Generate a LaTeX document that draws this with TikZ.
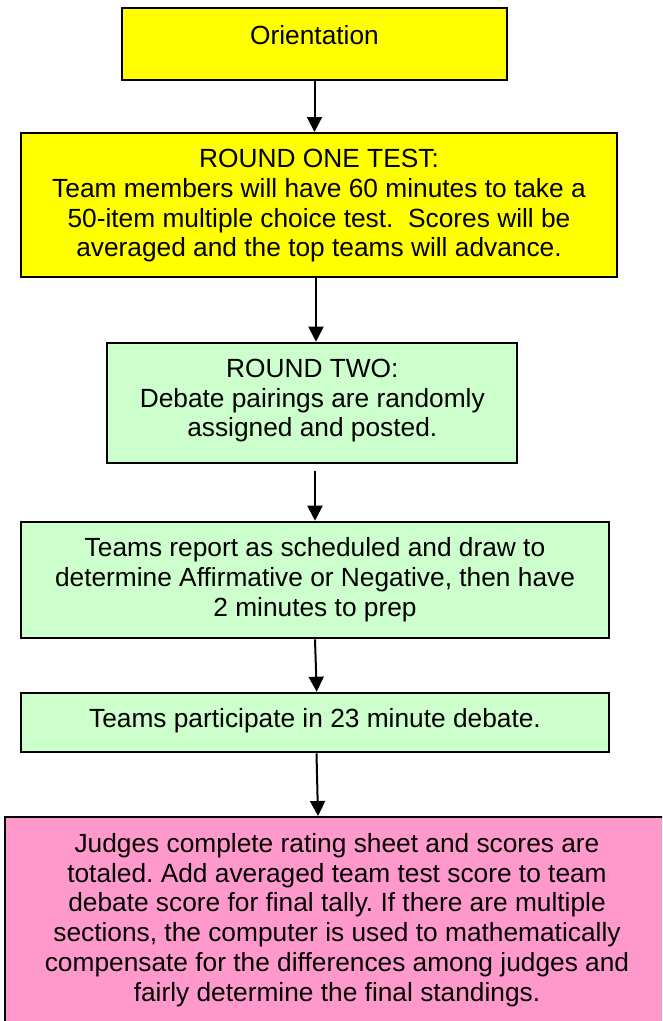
\documentclass[tikz,border=0pt]{standalone}
\usepackage{fontspec}
\setmainfont{Liberation Sans}
\usetikzlibrary{arrows.meta}
\frenchspacing
\definecolor{boxyellow}{HTML}{FFFF00}
\definecolor{boxgreen}{HTML}{CCFFCC}
\definecolor{boxpink}{HTML}{FF99CC}
\tikzset{
  stepbox/.style={draw=black, line width=2pt, rectangle, inner sep=0pt},
  steptext/.style={inner sep=0pt, anchor=north, align=center, font=\fontsize{26.3}{29.8}\selectfont},
  flow/.style={line width=2pt, -{Triangle[length=15pt,width=15pt]}}
}
\begin{document}
\begin{tikzpicture}[x=1pt,y=-1pt]
\useasboundingbox (0,0) rectangle (662,1021);
\clip (0,0) rectangle (662,1021);
% boxes
\node[stepbox, fill=boxyellow, minimum width=385pt, minimum height=72pt] (b1) at (314.5,44) {};
\node[stepbox, fill=boxyellow, minimum width=596pt, minimum height=144pt] (b2) at (319,205) {};
\node[stepbox, fill=boxgreen, minimum width=410pt, minimum height=120pt] (b3) at (312.3,402.7) {};
\node[stepbox, fill=boxgreen, minimum width=588pt, minimum height=116.6pt] (b4) at (315,580) {};
\node[stepbox, fill=boxgreen, minimum width=588pt, minimum height=59.6pt] (b5) at (315,722.5) {};
\node[stepbox, fill=boxpink, minimum width=664pt, minimum height=205pt] (b6) at (337,919.5) {};
% texts
\node[steptext] (t1) at ([yshift=-18pt]b1.north) {Orientation};
\node[steptext] (t2) at ([yshift=-17pt]b2.north) {ROUND ONE TEST:\\Team members will have 60 minutes to take a\\50-item multiple choice test.\ \ Scores will be\\averaged and the top teams will advance.};
\node[steptext] (t3) at ([yshift=-17pt]b3.north) {ROUND TWO:\\Debate pairings are randomly\\assigned and posted.};
\node[steptext] (t4) at ([yshift=-17pt]b4.north) {Teams report as scheduled and draw to\\determine Affirmative or Negative, then have\\2 minutes to prep};
\node[steptext] (t5) at ([yshift=-17pt]b5.north) {Teams participate in 23 minute debate.};
\node[steptext] (t6) at ([yshift=-17pt]b6.north) {Judges complete rating sheet and scores are\\totaled. Add averaged team test score to team\\debate score for final tally. If there are multiple\\sections, the computer is used to mathematically\\compensate for the differences among judges and\\fairly determine the final standings.};
% arrows
\draw[flow] (b1.south) -- (b2.north -| b1.south);
\draw[flow] ([xshift=-3pt]b2.south) -- ([xshift=3.7pt]b3.north);
\draw[flow, shorten <=7pt] ([xshift=2.7pt]b3.south) -- (b4.north);
\draw[flow] (b4.south) -- ([xshift=1.7pt]b5.north);
\draw[flow] ([xshift=1.5pt]b5.south) -- ([xshift=-19pt]b6.north);
\end{tikzpicture}
\end{document}
